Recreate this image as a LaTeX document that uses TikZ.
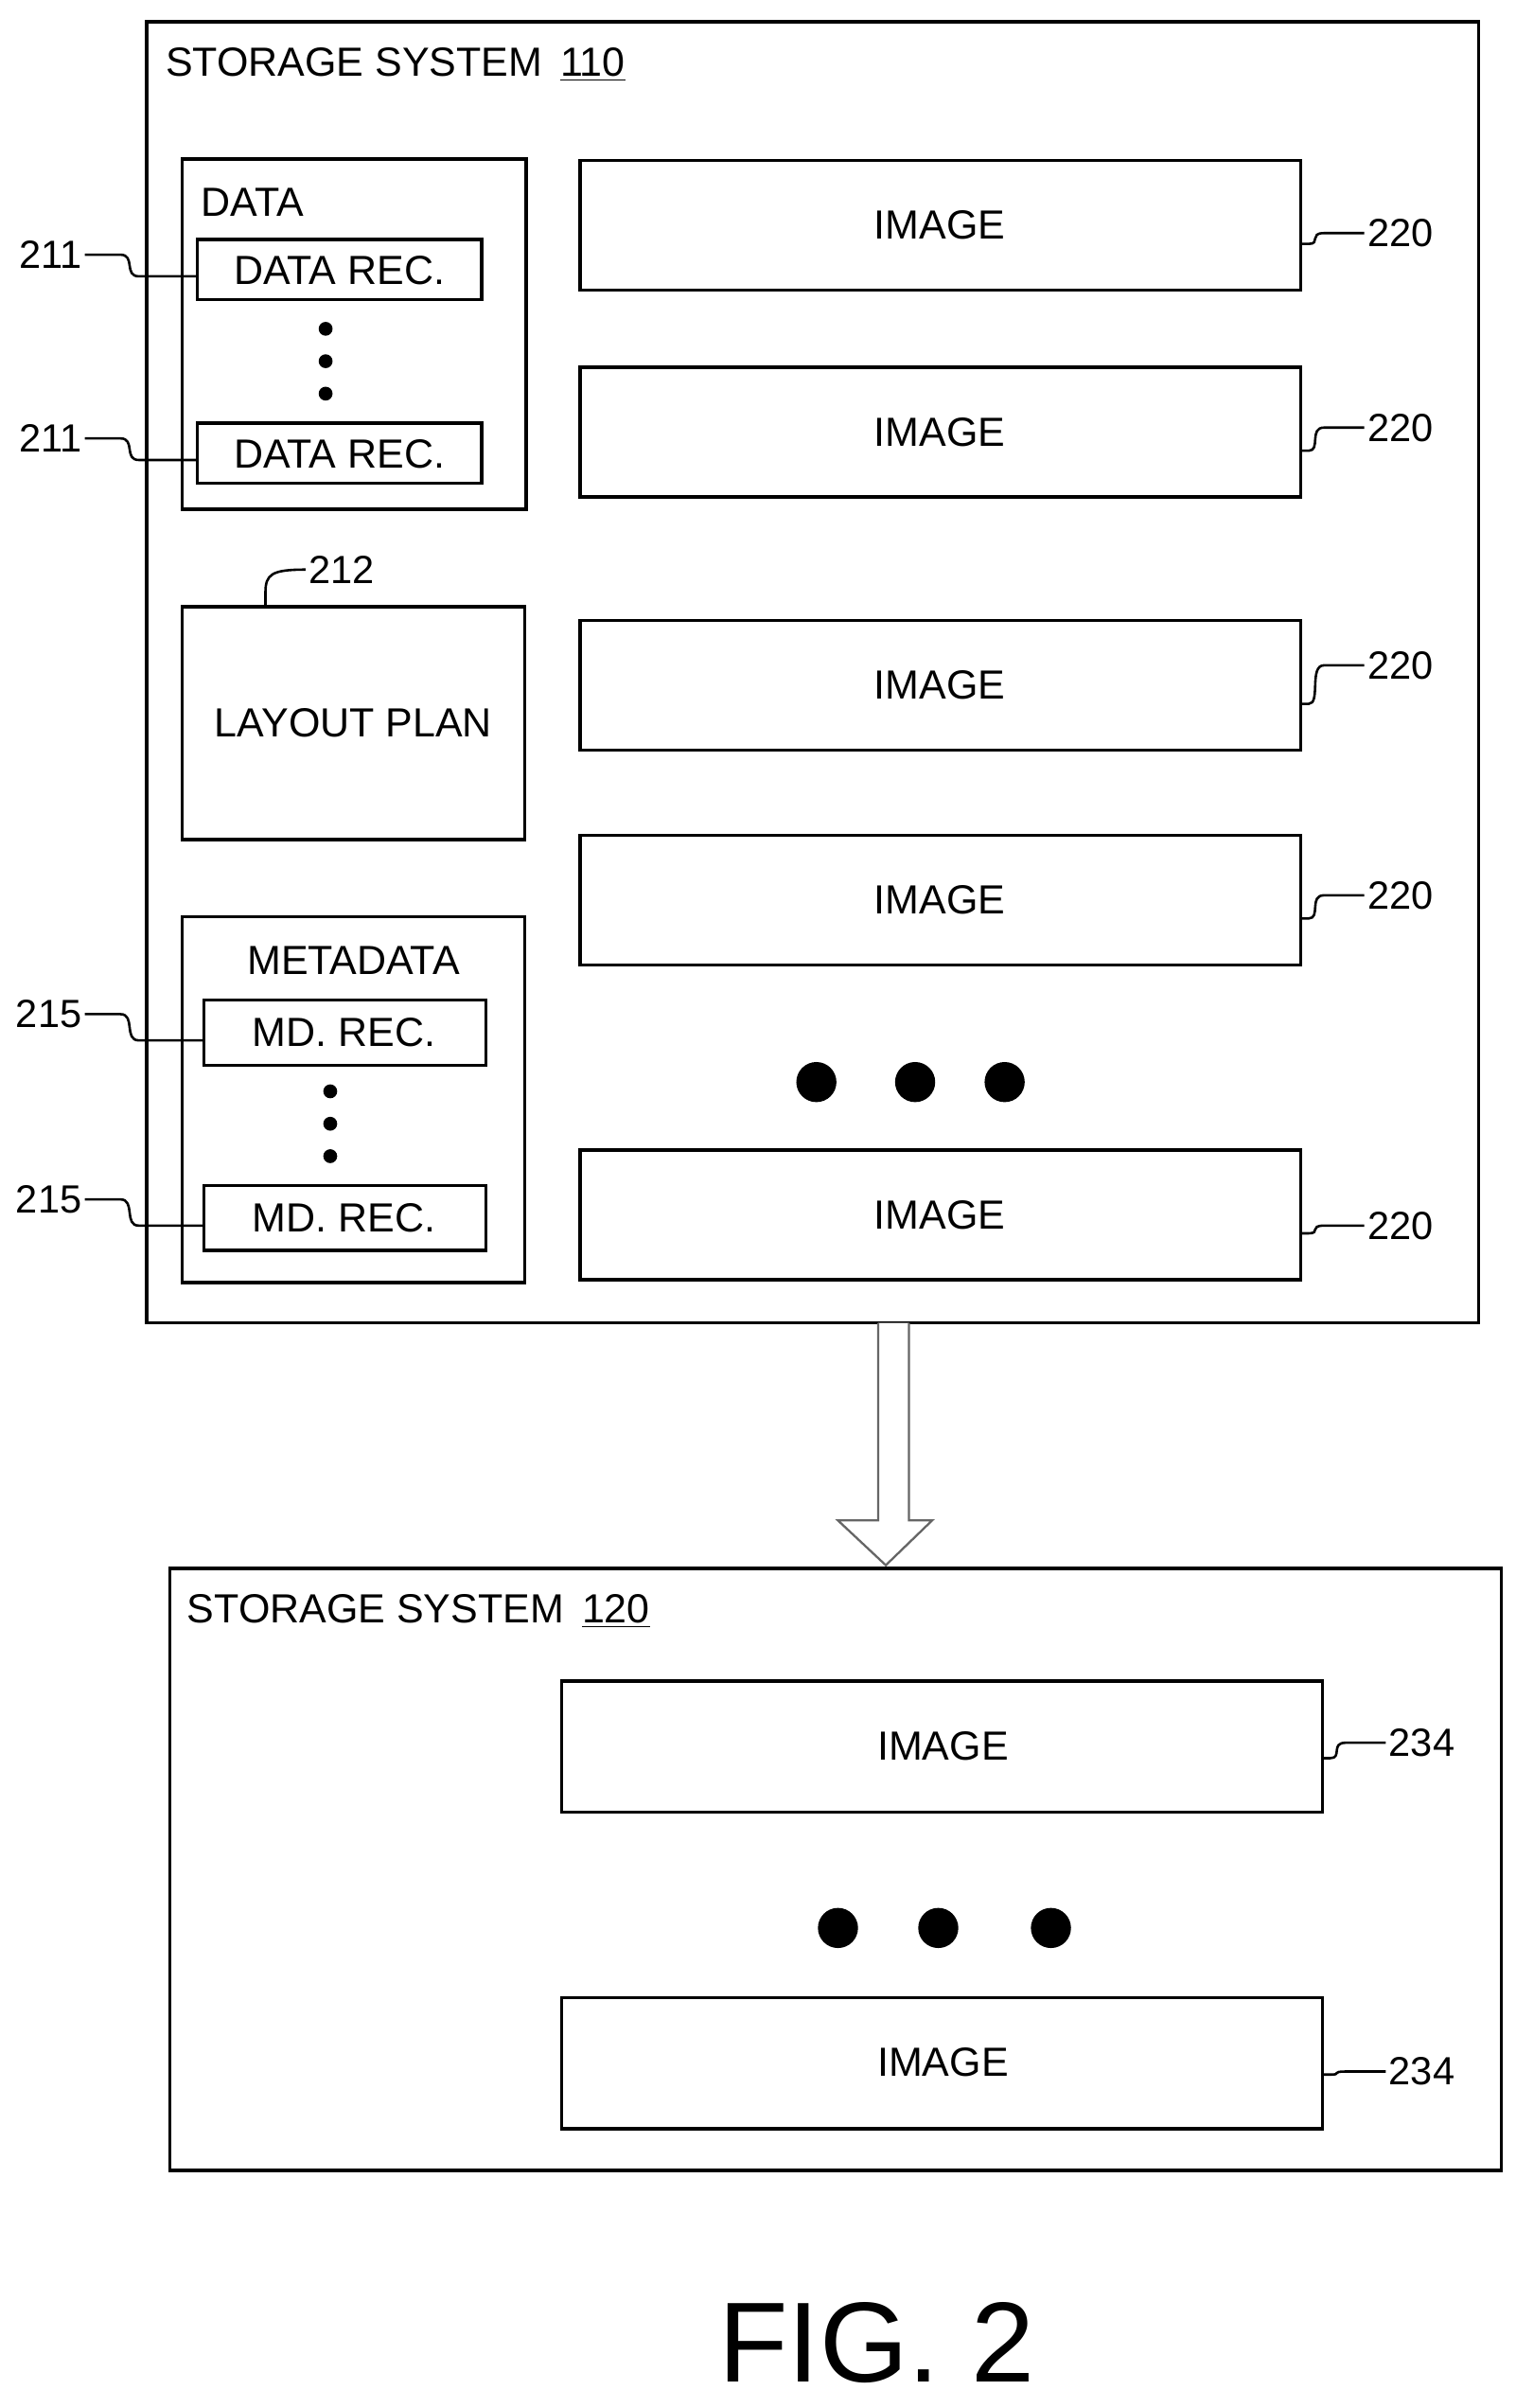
\documentclass[tikz,border=0pt]{standalone}
\usepackage{fontspec}
\setmainfont{Liberation Sans}
\begin{document}
\begin{tikzpicture}[x=0.02cm,y=-0.02cm,
  box/.style={draw,line width=1.2pt},
  txt/.style={font=\fontsize{15}{18}\selectfont,inner sep=0pt},
  lbl/.style={font=\fontsize{14.5}{17}\selectfont,inner sep=1pt},
  lead/.style={line width=0.9pt}]
\useasboundingbox (0,0) rectangle (982,1560);

% storage system 110
\draw[box] (95,14) rectangle (958,857);
\node[txt,anchor=west] (t1) at (107,42) {STORAGE SYSTEM \,\underline{110}};

\draw[box] (118,103) rectangle (341,330);
\node[txt,anchor=west] (data) at (130,131) {DATA};
\foreach \y/\n in {155/dra,274/drb}{
  \draw[box] (128,\y) rectangle (312,\y+39);
  \node[txt] (\n) at (220,\y+20) {DATA REC.};
  \coordinate (\n w) at (128,\y+24);
  \node[lbl,anchor=east] (\n l) at (55,\y+10) {211};
  \draw[lead] (\n l.east) -- (78,\y+10) .. controls (88,\y+10) and (80,\y+24) .. (90,\y+24) -- (\n w);
}
\foreach \y in {213,234,255} \fill (211,\y) circle (4.5);

\draw[box] (118,393) rectangle (340,544);
\node[txt] (plan) at (229,468) {LAYOUT PLAN};
\node[lbl,anchor=west] (l212) at (198,369) {212};
\coordinate (plant) at (172,393);
\draw[lead] (plant) -- (172,384) .. controls (172,372) and (176,369) .. (l212.west);

\draw[box] (118,594) rectangle (340,831);
\node[txt] (meta) at (229,622) {METADATA};
\foreach \y/\n in {648/mda,768/mdb}{
  \draw[box] (132,\y) rectangle (315,\y+42);
  \node[txt] (\n) at (223,\y+21) {MD. REC.};
  \coordinate (\n w) at (132,\y+26);
  \node[lbl,anchor=east] (\n l) at (55,\y+9) {215};
  \draw[lead] (\n l.east) -- (78,\y+9) .. controls (88,\y+9) and (80,\y+26) .. (90,\y+26) -- (\n w);
}
\foreach \y in {707,728,749} \fill (214,\y) circle (4.5);

\foreach \y/\ly/\n in {104/151/ia,238/277/ib,402/431/ic,541/580/id,745/794/ie}{
  \draw[box] (376,\y) rectangle (843,\y+84);
  \node[txt] (\n) at (609,\y+42) {IMAGE};
  \coordinate (\n e) at (843,\y+54);
  \node[lbl,anchor=west] (\n l) at (884,\ly) {220};
  \draw[lead] (\n e) -- (848,\y+54) .. controls (856,\y+54) and (848,\ly) .. (858,\ly) -- (\n l.west);
}
\foreach \x in {529,593,651} \fill (\x,701) circle (13);

% transfer arrow
\draw[line width=0.8pt,draw=black!60,fill=white]
  (569,857) -- (569,985) -- (543,985) -- (574,1014) -- (604,985) -- (589,985) -- (589,857);

% storage system 120
\draw[box] (110,1016) rectangle (973,1406);
\node[txt,anchor=west] (t2) at (121,1044) {STORAGE SYSTEM \,\underline{120}};
\foreach \y/\ly/\n in {1089/1129/ja,1294/1342/jb}{
  \draw[box] (364,\y) rectangle (857,\y+85);
  \node[txt] (\n) at (611,\y+42) {IMAGE};
  \coordinate (\n e) at (857,\y+50);
  \node[lbl,anchor=west] (\n l) at (898,\ly) {234};
  \draw[lead] (\n e) -- (862,\y+50) .. controls (870,\y+50) and (862,\ly) .. (872,\ly) -- (\n l.west);
}
\foreach \x in {543,608,681} \fill (\x,1249) circle (13);

\node[font=\fontsize{42}{48}\selectfont,inner sep=0pt] (fig) at (568,1518) {FIG. 2};
\end{tikzpicture}
\end{document}
